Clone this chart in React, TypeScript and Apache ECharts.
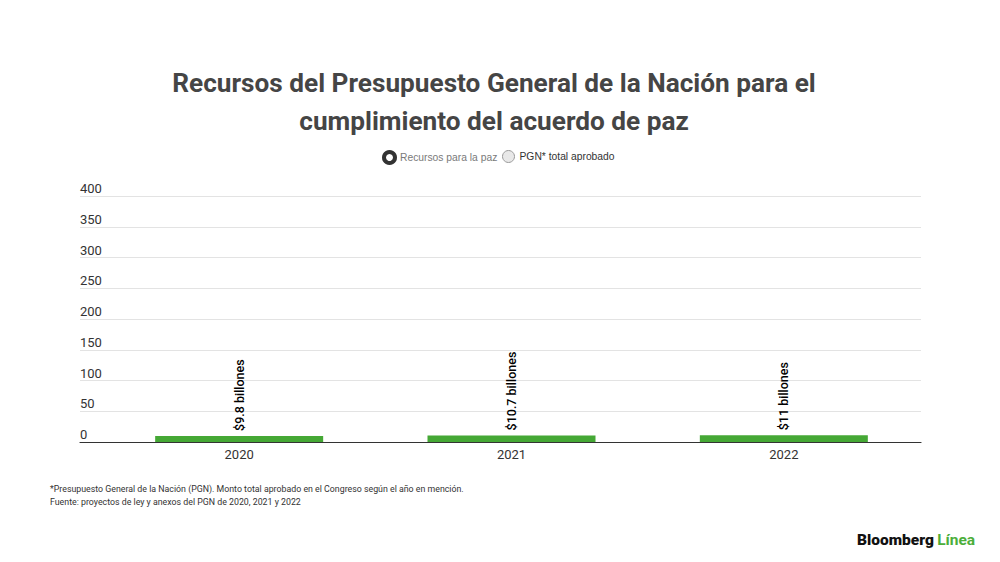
import React, { useEffect, useRef } from "react";
import * as echarts from "echarts";

const categories = ["2020", "2021", "2022"];
const recursosPaz = [9.8, 10.7, 11];
const recursosLabels = ["$9.8 billones", "$10.7 billones", "$11 billones"];
const pgnTotal = [271.7, 314, 350.4];
const yTicks = { min: 0, max: 400, interval: 50 };
const titleText = "Recursos del Presupuesto General de la Nación para el\ncumplimiento del acuerdo de paz";
const noteLines = [
  "*Presupuesto General de la Nación (PGN). Monto total aprobado en el Congreso según el año en mención.",
  "Fuente: proyectos de ley y anexos del PGN de 2020, 2021 y 2022",
];
const SERIES_A = "Recursos para la paz";
const SERIES_B = "PGN* total aprobado";

export default function App() {
  const ref = useRef<HTMLDivElement>(null);
  useEffect(() => {
    if (!ref.current) return;
    const chart = echarts.init(ref.current, undefined, { renderer: "svg" });
    const font = "Roboto, 'Noto Sans', sans-serif";
    const legendFont = "'Liberation Sans', Arial, sans-serif";
    chart.setOption({
      animation: false,
      backgroundColor: "#ffffff",
      legend: [
        {
          data: [
            {
              name: SERIES_A,
              icon: "circle",
              itemStyle: { color: "#ffffff", borderColor: "#333333", borderWidth: 4 },
            },
          ],
          selected: { [SERIES_B]: false },
          left: 382,
          top: 150,
          padding: 0,
          itemWidth: 11,
          itemHeight: 11,
          itemGap: 4,
          textStyle: { fontFamily: legendFont, fontSize: 10.3, color: "#7a7a7a" },
        },
        {
          data: [
            {
              name: SERIES_B,
              icon: "circle",
              itemStyle: { color: "#e8e8e8", borderColor: "#9a9a9a", borderWidth: 1 },
            },
          ],
          selectedMode: false,
          left: 502,
          top: 150,
          padding: 0,
          itemWidth: 12,
          itemHeight: 12,
          textStyle: { fontFamily: legendFont, fontSize: 10.3, color: "#333333" },
        },
      ],
      grid: [
        { left: 80, right: 79, top: 196, height: 246 },
        { left: 103, right: 80, top: 196, height: 246 },
      ],
      xAxis: [
        {
          type: "category",
          gridIndex: 0,
          data: categories,
          axisLine: { show: true, lineStyle: { color: "#333333", width: 1.2 } },
          axisTick: { show: false },
          axisLabel: { show: false },
          z: 5,
        },
        {
          type: "category",
          gridIndex: 1,
          data: categories,
          axisLine: { show: false },
          axisTick: { show: false },
          axisLabel: { fontFamily: font, fontSize: 13, color: "#333333", margin: 6 },
        },
      ],
      yAxis: [
        {
          type: "value",
          gridIndex: 0,
          min: yTicks.min,
          max: yTicks.max,
          interval: yTicks.interval,
          axisLine: { show: false },
          axisTick: { show: false },
          splitLine: { show: true, lineStyle: { color: "#e3e3e3", width: 1 } },
          axisLabel: {
            inside: true,
            margin: 0,
            verticalAlign: "bottom",
            padding: [0, 0, 1, 0],
            fontFamily: font,
            fontSize: 13,
            color: "#333333",
          },
        },
        {
          type: "value",
          gridIndex: 1,
          min: yTicks.min,
          max: yTicks.max,
          interval: yTicks.interval,
          show: false,
          splitLine: { show: false },
        },
      ],
      series: [
        {
          type: "bar",
          name: SERIES_A,
          xAxisIndex: 1,
          yAxisIndex: 1,
          data: recursosPaz,
          barWidth: 168,
          itemStyle: { color: "#45a835" },
          label: {
            show: true,
            position: "top",
            rotate: 90,
            align: "left",
            verticalAlign: "middle",
            distance: 5,
            fontFamily: font,
            fontSize: 12.5,
            fontWeight: 500,
            color: "#000000",
            formatter: (p: any) => recursosLabels[p.dataIndex],
          },
        },
        {
          type: "bar",
          name: SERIES_B,
          xAxisIndex: 1,
          yAxisIndex: 1,
          data: pgnTotal,
          barWidth: 168,
          itemStyle: { color: "#cccccc" },
        },
      ],
      graphic: [
        {
          type: "text",
          x: 494,
          y: 64,
          style: {
            text: titleText,
            align: "center",
            verticalAlign: "top",
            fontFamily: font,
            fontWeight: "bold",
            fontSize: 26.2,
            lineHeight: 38,
            fill: "#454545",
          },
        },
        {
          type: "text",
          left: 50,
          top: 482,
          style: {
            text: noteLines.join("\n"),
            fontFamily: font,
            fontSize: 8.8,
            lineHeight: 13,
            fill: "#333333",
          },
        },
        {
          type: "text",
          left: 857,
          top: 532,
          style: {
            text: "{b|Bloomberg} {l|Línea}",
            rich: {
              b: { fontFamily: font, fontWeight: 900, fontSize: 15.5, fill: "#111111" },
              l: { fontFamily: font, fontWeight: "bold", fontSize: 15.5, fill: "#4cae3a" },
            },
          },
        },
      ],
    });
    return () => chart.dispose();
  }, []);
  return <div ref={ref} style={{ width: 1000, height: 562, margin: -8 }} />;
}
